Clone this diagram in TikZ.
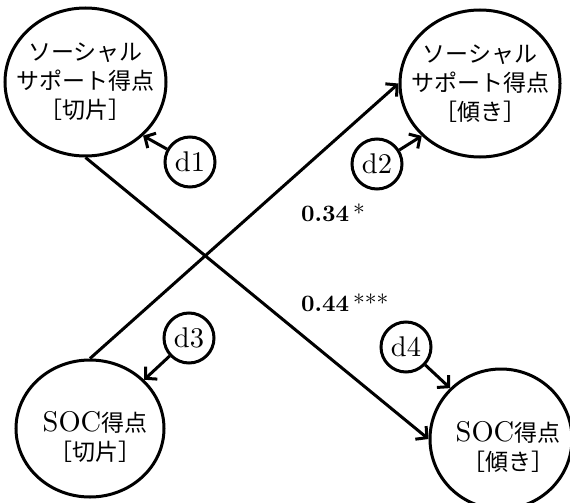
\documentclass[tikz,border=0pt]{standalone}
\usepackage{graphicx}
\usepackage{fontspec}
\newfontfamily\jp{Noto Sans CJK JP}
\newcommand{\lat}[1]{\scalebox{2.85}{\fontsize{10pt}{12pt}\selectfont #1}}
\newcommand{\coeftxt}[1]{\scalebox{2.35}{\fontsize{10pt}{12pt}\selectfont #1}}
\usetikzlibrary{shapes.geometric,arrows.meta}
\begin{document}
\begin{tikzpicture}[x=1pt,y=-1pt,
  bigc/.style={draw,ellipse,line width=3pt,inner sep=0pt},
  smallc/.style={draw,circle,line width=3pt,minimum size=50pt,inner sep=0pt},
  lbl/.style={align=center,inner sep=0pt,font=\fontsize{23pt}{29pt}\selectfont},
  coef/.style={anchor=base west,inner sep=0pt},
  arr/.style={line width=3pt,-{Straight Barb[length=8pt,width=17pt]}}]
\useasboundingbox (0,0) rectangle (570,503);
% big ellipses
\node[bigc,minimum width=161pt,minimum height=148pt] (c1) at (85.5,82) {};
\node[bigc,minimum width=160pt,minimum height=147pt] (c2) at (480,83.5) {};
\node[bigc,minimum width=148pt,minimum height=137pt] (c3) at (90,428.5) {};
\node[bigc,minimum width=142pt,minimum height=140pt] (c4) at (501,439) {};
% texts
\node[lbl] (t1) at (c1.center) {{\jp ソーシャル}\\{\jp サポート得点}\\{\jp ［切片］}};
\node[lbl] (t2) at (c2.center) {{\jp ソーシャル}\\{\jp サポート得点}\\{\jp ［傾き］}};
\node[lbl] (t3) at ([shift={(5,8)}]c3.center) {\lat{SOC}{\jp 得点}\\{\jp ［切片］}};
\node[lbl] (t4) at ([shift={(7,8)}]c4.center) {\lat{SOC}{\jp 得点}\\{\jp ［傾き］}};
% disturbances
\node[smallc] (d1) at (190,162) {\lat{d1}};
\node[smallc] (d2) at (377,164) {\lat{d2}};
\node[smallc] (d3) at (189,338) {\lat{d3}};
\node[smallc] (d4) at (406,347) {\lat{d4}};
% arrows
\draw[arr] (d1) -- (c1.-43);
\draw[arr] (d2) -- (c2.-138);
\draw[arr] (d3) -- (c3.42);
\draw[arr] (d4) -- (c4.135);
\draw[arr] (c1.south) -- (c4.west);
\draw[arr] (c3.north) -- (c2.west);
% coefficients
\node[coef] (k1) at (301,221) {\coeftxt{\textbf{0.34}\,*}};
\node[coef] (k2) at (301,311) {\coeftxt{\textbf{0.44}\,***}};
\end{tikzpicture}
\end{document}
